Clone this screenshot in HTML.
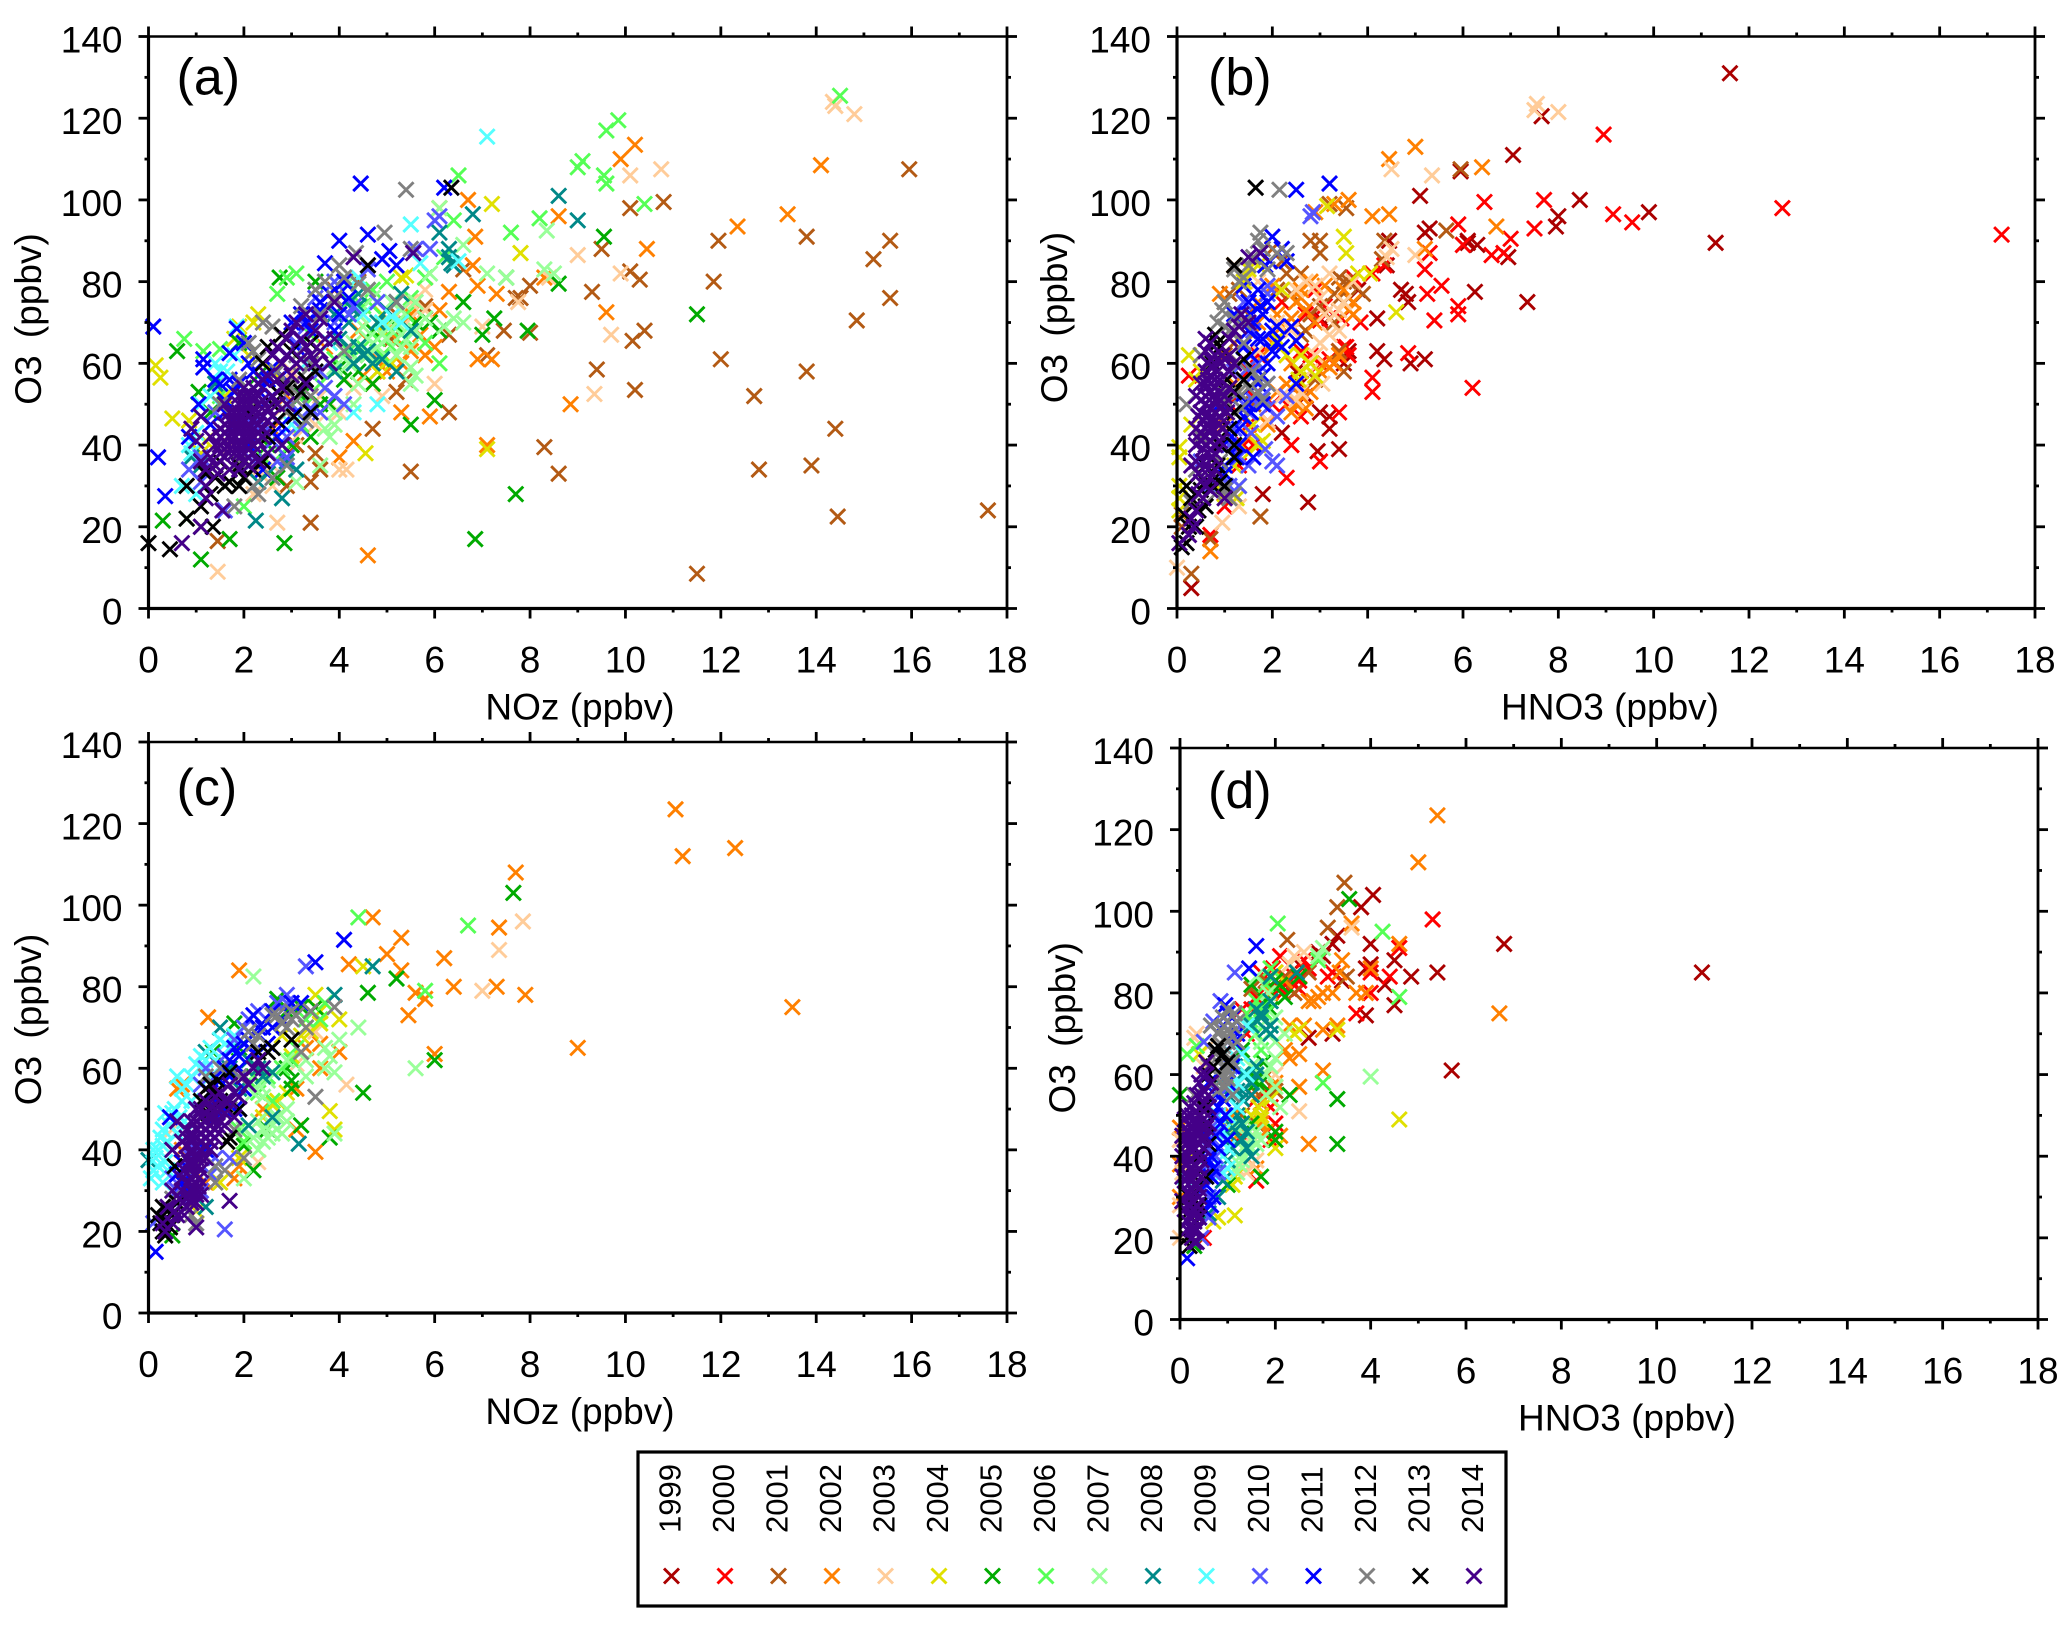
<!DOCTYPE html>
<html lang="en">
<head>
<meta charset="utf-8">
<title>O3 vs NOz and HNO3 scatter panels</title>
<style>
html,body{margin:0;padding:0;background:#fff;}
svg{display:block;font-family:"Liberation Sans",Arial,sans-serif;}
</style>
</head>
<body>
<svg id="figure" xmlns="http://www.w3.org/2000/svg" width="2067" height="1628" viewBox="0 0 2067 1628"></svg>
<script>
const years=[1999,2000,2001,2002,2003,2004,2005,2006,2007,2008,2009,2010,2011,2012,2013,2014];
const xTickLabels=[0,2,4,6,8,10,12,14,16,18];
const yTickLabels=[0,20,40,60,80,100,120,140];
const a2001=[[11.5,8.5],[17.6,24],[14.45,22.5],[14.4,44],[12.8,34],[13.9,35],[12.7,52],[13.8,58],[12,61],[14.85,70.5],[15.55,76],[11.85,80],[15.2,85.5],[15.55,90],[13.8,91],[11.95,90],[15.95,107.5],[10.8,99.5],[10.1,98],[9.5,88],[10.1,82.5],[10.3,80.5],[9.3,77.5],[10.4,68],[10.15,65.5],[10.2,53.5],[9.4,58.5],[8.3,39.5],[8.6,33],[8,67.5],[7.45,68],[7.1,62],[8,79],[7.8,76],[3.4,21],[3.5,38],[3.6,34],[3.4,31],[4.7,44],[5.2,53],[5.4,56],[6.3,48],[4.8,58],[5.5,33.5],[6.3,67],[6.6,83],[7.7,76],[5.1,66],[1.45,16.5],[2.9,30],[3.1,40],[4.4,80],[5.2,62],[3.9,78],[5.8,74],[4.6,62],[5.2,72]];
const a2002=[[4.6,13],[4.3,41],[4,37],[5.3,48],[5.9,47],[8.85,50],[7.1,40],[9.6,72.5],[10.45,88],[8.6,96],[9.9,110],[10.2,113.5],[12.35,93.5],[13.4,96.5],[14.1,108.5],[6.9,61],[7.2,61],[6,64],[6.3,77.5],[6.9,79],[7.3,77],[6.8,84],[6.85,91],[6.7,100],[8.3,81],[6.1,98],[5.3,60],[5.7,67],[5.5,72],[5,58],[4.7,55],[3.2,72],[5,70],[5.2,66],[5.5,63],[5.8,62],[4.8,61],[4.5,57],[3.3,50],[3.7,64],[4.4,68],[3.4,60],[6.1,73],[2.9,52],[2.6,44]];
const a2003=[[1.45,9],[2.7,21],[4,34],[4.15,34],[9.35,52.5],[9.7,67],[7.75,75],[7,69],[9,86.5],[9.9,82],[10.1,106],[10.75,107.5],[14.35,124],[14.4,123],[14.8,121],[6,55],[5.8,78],[3.9,45],[3.5,45],[3,58],[4.9,52],[5.5,75],[2.2,28],[2.6,35],[2.3,34],[8.4,81],[5.1,70],[5.5,71],[5.8,73],[4.3,54],[4,48],[3.6,52],[2.6,30],[1.7,40],[3.1,42],[2.8,49]];
const a2004=[[0.15,59.5],[0.25,56.5],[0.5,46.5],[0.85,46],[7.1,39],[7.2,99],[7.8,87],[5.3,81],[5.4,81.5],[4.55,38],[4.8,58],[4.9,72],[1.9,69],[2.2,70],[1.4,55],[1.6,52],[1.2,41],[5.1,60],[1.8,66],[1.1,38],[2.3,72],[2.1,62],[2.6,58],[4.4,64],[4.9,68]];
const a2005=[[0.3,21.5],[1.1,12],[1.7,17],[2.85,16],[6.85,17],[7.7,28],[5.5,45],[6,51],[4.7,55],[8.6,79.5],[7.5,81],[7.25,71],[7,67],[6.6,75],[6.1,68],[7.95,68],[9.55,91],[11.5,72],[0.6,63],[1.05,53],[2.75,81],[3.5,80],[0.8,22],[2.7,32],[3.8,50],[4.1,56],[4.5,62],[5.6,70],[5.5,68],[2,52],[2.5,40],[1.3,48],[2.9,50],[3.2,52],[3.6,50],[4,59],[4.3,60],[4.4,58],[4.7,68],[5.2,69],[5.9,70],[3,40],[3.4,42],[2.3,57],[1.9,65]];
const a2006=[[0.75,66],[1.15,63],[1.5,63.5],[2.7,77],[2.9,81],[3.1,82],[3.6,55],[3.2,45],[2,25],[6.5,106],[9.1,109.5],[9,108],[9.55,106],[9.6,104],[9.6,117],[9.85,119.5],[14.5,125.5],[10.4,99],[8.2,95.5],[7.6,92],[6.4,95],[5.8,81],[4.7,78],[4.5,74],[5.1,68],[5.4,72],[5.8,65],[6.1,60],[2.8,38],[2.4,37],[6.2,86],[1.5,52],[3.4,67],[3.6,58],[3.9,61],[4.2,63],[4.5,64],[4.8,66],[5.1,64],[5.4,66],[5.5,76],[5,80],[4.7,74],[4.2,75],[4.9,62],[3.3,50]];
const a2007=[[8.35,92.5],[8.3,83],[8.5,82],[7.5,81],[7.1,82],[5.9,82],[5.6,57],[3.6,35],[3.1,31],[3.8,42],[3.9,45],[4.3,50],[5.5,59],[6.2,69],[6.4,71],[6.6,70],[6.6,89],[5,66],[5.3,67],[5.5,64],[4.9,67],[4.6,66],[4.3,65],[4.2,80],[3.9,59],[2,32],[5.3,64],[6.1,98],[5.6,75],[3,47],[2.2,42],[4.6,62],[4.8,64],[5,69],[5.2,70],[5.2,62],[5.6,68],[5.8,71],[4.5,69],[4.7,76],[5.1,75],[5.3,73],[4.4,72],[4.2,60],[4.4,55],[3.9,48],[3.7,44],[5.5,55],[3.4,60]];
const a2008=[[8.6,101],[9,95],[6.8,96.5],[6.1,92],[6.3,88],[6.3,86],[6.35,84.5],[6.4,84],[5.2,75],[5.3,77],[4.4,64],[4.5,62],[4.3,73],[4.4,77],[4.2,70],[2.25,21.5],[2.8,27],[0.9,37],[1.1,35],[1.4,55],[5,73],[5.5,68],[4.8,70],[1.6,45],[2.3,31],[3.1,34],[3.9,72],[4,66],[4.2,64],[4.3,60],[4.6,63],[4.7,60],[4.4,74],[5.2,58],[4.9,61],[3.9,58],[2.9,36],[2.5,33]];
const a2009=[[7.1,115.5],[5.5,94],[5.7,84.5],[6.5,85],[5.1,71.5],[4.3,48],[4.4,81],[0.85,40],[0.9,38],[1,28],[1.85,69],[1.65,58],[1.5,58],[1.3,52],[3.9,80],[4.8,50],[5.3,70],[1.4,60],[1.1,50],[0.7,30],[1,43],[1.8,62],[3,45],[3.8,65],[4.5,72],[4.9,70],[3.3,60]];
const a2010=[[6,95],[6.1,96],[5.9,88],[3.9,52],[4.1,50],[3,50],[3.4,49],[1.1,31],[0.85,34],[2.7,36],[2.9,37],[2.4,47],[2.5,44],[2,47],[3.9,70],[1.6,24],[3.5,76],[4.8,75],[3.1,65],[5.6,88],[2.2,45],[1.1,37],[1.9,38],[2.2,36],[2.6,41],[3.2,44],[3.7,54],[3.6,48],[3.3,69],[3.9,80],[4.2,72],[1.4,48],[4.6,83],[4.3,74],[2.9,42],[3.2,53],[3.6,58]];
const a2011=[[4.45,104],[4,90],[4.6,91.5],[5.05,87.5],[5.2,84],[4.9,85.5],[3.7,84.5],[6.2,103],[0.1,69],[0.2,37],[0.35,27.5],[0.85,42],[1.15,61],[1.15,59],[1.85,68.5],[2,65],[1.7,62.5],[1.6,51],[1.05,50],[3,70],[3.2,72],[2.8,57],[4,77],[4,72],[3.6,73],[3.4,68],[1.8,53],[2.6,59],[2.1,60],[2.7,42],[3.9,68],[2.4,54],[1.4,56],[1.5,55],[1.7,56],[1.9,55],[2.2,58],[2.5,56],[2.9,62],[3.1,64],[3.3,70],[3.5,72],[3.6,75],[3.8,77],[4.1,80],[4.2,76],[2.5,51],[1.3,45],[2.1,40],[2.4,34],[1.6,48],[1.8,45],[2.8,45],[3.1,48]];
const a2012=[[5.4,102.5],[4.95,92],[5.5,88],[4.35,87],[4,84],[3.7,80],[3.5,78],[2.4,70],[2.6,69],[3.2,74],[2.1,65],[1.9,56],[2.3,61],[2.2,63],[4.4,79.5],[4.6,78],[5.2,75],[2.3,28],[1.8,25],[2.9,35],[2.5,38],[3.2,57],[2.9,55],[1.1,36],[3.4,52],[1.5,50],[4.1,63],[3,54],[2.4,36],[2.1,49],[2.7,50],[2.9,48],[3.1,51],[3.4,60],[3.1,62],[2.7,58],[3.6,72],[3.9,76],[4.1,81],[2.6,32],[2.2,30],[1.6,43],[1.9,36],[3.3,46]];
const a2013=[[6.35,103],[0,16],[0.45,14.5],[0.8,30],[0.8,22],[1.1,25],[1.1,20],[1.35,20],[1.6,30],[1.7,31],[1.9,30],[1.4,32],[2.2,34],[2,32],[2.4,36],[1.5,40],[2.7,46],[3.05,47],[2.8,67],[3.4,62],[3.2,53],[2.4,60],[2.5,64],[4.6,84],[3.4,65],[2.1,48],[2.8,40],[1.3,28],[1.5,36],[2.6,50],[2.9,54],[3.3,56],[3.5,58],[3,63],[2.7,53],[3.4,48],[2.3,41],[1.9,35],[2.5,42],[1.2,33]];
const a2014=[[0.7,16],[1.1,20],[1.2,30],[1.55,24],[1.2,27],[5.55,87],[4.3,86],[3.9,75],[3.6,71],[3,68],[2.9,66],[3.1,70],[3.3,64],[3.5,60],[3.8,60],[3.6,63],[2.8,60],[3,57],[2.5,57],[2.6,52],[2.2,54],[1.9,52],[1.6,50],[1.1,47],[1.3,42],[1.5,44],[1.6,41],[1.7,46],[1.8,44],[1.9,48],[2,50],[2.1,44],[2.2,46],[2.3,48],[2.4,44],[2.5,49],[1.9,40],[2,42],[2.1,39],[2.2,42],[1.8,38],[1.6,37],[1.4,35],[1.2,34],[1.7,34],[2.8,40],[2.5,38],[2.3,36],[2,36],[2.3,52],[2.4,51],[2,54],[1.7,48],[1.9,46],[2.1,47],[2.3,43],[2.5,46],[3.5,68],[3.9,66],[3.2,61],[2.7,56],[2.9,50],[3.3,55],[1.5,40],[1.6,43],[1.7,42],[1.8,42],[1.9,43],[2,44],[2.1,42],[2.2,44],[2.3,45],[1.8,46],[1.9,44],[2,46],[2.1,45],[2.2,48],[2.3,50],[2.4,47],[1.7,44],[1.6,45],[1.5,42],[1.4,40],[1.8,48],[1.9,50],[2,48],[2.1,50],[2.2,51],[2.1,52],[2,52],[1.8,40],[1.9,38],[2,40],[2.1,41],[1.7,39],[1.6,39],[1.5,38],[2.2,40],[2.3,41],[2.4,42],[2.6,47],[2.7,50],[2.8,54],[2.2,52],[2.3,55],[2.4,56],[2,38],[1.3,37],[1.1,36],[1.45,33],[1.9,34],[2.1,35],[2.6,62],[3.2,66],[3.4,62],[3.1,60],[2.9,62],[2.7,64],[3.7,66],[3.3,72],[1,41],[0.9,44],[2.2,38]];
const b1999=[[0.3,5],[11.6,131],[7.65,120.5],[7.05,111],[5.95,107],[5.1,101],[8.45,100],[8,96],[7.95,93.5],[9.9,97],[11.3,89.5],[6.95,86],[7.35,75],[6.25,77.5],[6,89],[6.1,90],[6.1,89.5],[6.3,89],[5.2,92],[4.45,90],[4.4,84],[4.7,78],[4.8,77],[4.85,75],[4.2,71],[3.2,71],[4.2,63],[4.35,61],[5.2,61],[3.4,39],[2.95,38.5],[2.75,26],[3.2,44],[3.2,47],[3,48],[2.7,52],[2.2,43],[2.6,55],[3.5,60],[3.6,63],[3,71],[3.8,78],[2.5,58],[1.8,28],[5.3,93],[4.9,60]];
const b2000=[[17.3,91.5],[12.7,98],[8.95,116],[7.7,100],[9.15,96.5],[9.55,94.5],[7.5,93],[7,90.5],[6.45,99.5],[6.6,86.5],[6.85,87],[5.9,94],[6,89],[5.55,79],[5.25,77],[5.4,70.5],[5.9,74],[5.9,72],[5.2,83],[5.3,87],[4.35,84],[4.1,82],[3.7,81],[6.2,54],[4.85,62.5],[4.1,56.5],[4.1,53],[3.4,63],[3.5,64],[3.55,64],[3.6,62],[3.85,70],[3.45,71],[3,70.5],[2.8,62],[3,60],[3.2,61],[3.4,48],[2.4,40],[3,36],[2.3,32],[1.4,40],[1.6,40],[0.25,57],[1.5,45],[1.9,46],[2.2,75],[1,25],[0.7,18],[1.5,58],[2,50],[2.7,72],[1.3,60],[1.3,35],[1.1,50],[1.6,52],[2.3,50],[2.6,63],[2.9,78],[3.1,74],[2.6,47],[1.2,28],[1.7,62]];
const b2001=[[0.1,20],[0.3,8.5],[0.7,17],[1.75,22.5],[5.95,107.5],[5.65,92.5],[4.35,90],[3.55,98],[3.2,99],[3.3,77],[3.5,80],[3.4,81],[3.6,80],[3,90],[2.8,90],[3,87],[4.3,85.5],[3.9,77],[3.4,76],[2.6,82],[2.3,82],[2.2,85],[2.4,77],[2.6,76],[2.7,68],[3.3,70],[3.5,58],[3.4,63],[1,75],[1.1,77],[1.3,78],[2,88],[2.6,67],[1,62],[0.1,23],[1,48],[2.1,78],[2.8,72],[3,74],[1.5,72],[1.2,65],[3.6,76],[2.9,56],[1.6,50]];
const b2002=[[0.7,14],[4.45,110],[5,113],[6.4,108],[3.6,100],[2.9,97],[4.1,96],[4.45,96.5],[6.7,93.5],[5.2,88],[3.3,99],[2.6,76],[2.8,80],[3.1,79],[3.5,78],[3.6,73],[3.7,75],[2.5,75],[2.7,73],[2.2,69],[2.5,50],[2.6,52],[2.7,49],[2.4,48],[3.1,60],[3.3,60],[1.2,84],[0.9,77],[1.4,70],[1.6,67],[1.8,62],[1.5,42],[2,79],[3,58],[3.2,59],[2.3,55],[2.8,53],[2.1,72],[2.4,71],[2.9,70],[1.7,70],[2,65],[2.4,60],[2.1,53],[1.9,45],[3.4,62],[3.7,72],[2.6,78],[1.7,75],[1.2,55],[1,45]];
const b2003=[[0,10],[0.95,21],[7.55,123.5],[7.5,122],[8,121.5],[5.35,106],[4.5,107.5],[5,86.5],[4.5,88],[4.4,86],[3.7,80],[2.7,80],[2.9,79],[2.5,78],[3.5,75],[3.2,67],[3.4,68],[3,65],[2.9,62],[3.05,55],[2.6,53],[2.5,51],[2.2,52],[1.9,46],[3.3,72],[2.1,70],[1.7,63],[1.7,80],[3.4,73],[2.4,68],[2.8,58],[3.1,72],[2.3,62],[1.5,50],[1.3,25],[3,76],[3.2,82]];
const b2004=[[0.05,39.5],[0.05,37],[0.05,30],[0.05,27],[0.05,24],[0.25,62],[0.4,56],[1.3,30],[1.25,27],[4.6,72.5],[3.15,98.5],[3.5,91],[3.55,87],[3.8,82],[4.05,82],[2.6,62],[2.6,58],[2.55,56],[1.8,41],[1.5,38],[1.5,83],[2.2,78],[2.1,66],[1.7,84],[1.2,35],[1.7,40],[2.8,60],[0.3,45],[0.5,58],[2.3,62],[2.9,57],[1,28],[0.9,31],[1,52],[1.6,45],[1.4,80]];
const b2010=[[2.8,96],[2.85,97],[1.9,79],[1.85,39],[2,36],[2.1,35],[1.5,35],[1.9,77],[1.4,75],[1.7,60],[1.5,59],[1.6,57],[2.3,52],[2.1,47],[1.4,50],[1.8,52],[1.2,44],[0.5,36],[0.9,33],[1.9,55],[1.55,43],[1.1,40],[1.3,37],[1.5,48],[1.6,51],[1.7,53],[1.9,49],[1.2,58],[1.3,30],[1.1,30],[0.7,30],[1.6,68]];
const b2011=[[3.2,104],[2.5,102.5],[2,91],[2.2,88],[1.95,85],[2.3,85],[1.85,84],[1.4,79],[1.5,75],[1.8,72],[1.55,72],[1.75,74],[1.2,72],[2.1,69],[2.4,69],[2.5,65.5],[1.8,66],[2.1,65],[1.7,66],[1.9,60],[1.55,62],[2.5,55],[1.5,50],[1.55,48],[1.2,48],[1.15,42],[1.6,37],[1,35],[0.9,50],[1,33],[1.3,44],[1.4,47],[1.35,52],[1.7,55],[1.8,57],[2,63],[2.2,64],[1.5,68],[1.7,78],[1.9,75],[1.6,70],[1.3,40],[1.4,64],[1.8,50],[1.25,37],[2,68]];
const b2012=[[2.15,102.5],[1.75,92],[1.7,90],[1.8,88],[2.1,87],[2.3,87],[1.2,83],[1.3,80],[1.4,81],[1,75],[0.95,73],[0.85,70],[1.2,71],[1.4,70],[1,69],[0.5,62],[1.7,56],[1.9,55],[1.7,53],[1.3,60],[1.2,40],[1.1,27],[1.2,28],[0.5,42],[0.2,50],[0.3,26],[0.9,36],[1.4,56],[1,53],[1,51],[1.3,53],[1.5,54],[1.6,58],[1.8,51],[1.4,65],[1.1,68],[0.7,60],[1.5,84],[1.6,86],[1.9,83],[0.8,28],[1,29],[0.4,34],[1.35,49]];
const b2013=[[1.65,103],[1.2,84],[0.8,67],[0.85,65],[1.4,61],[1.4,56],[1.2,53],[1.2,48],[1.2,40],[1.2,37],[0.8,32],[0.9,31],[0.75,30],[0.2,30],[0.15,23],[0.2,16],[0.1,15],[0.45,24],[0.75,60],[0.9,40],[0.6,35],[0.3,27],[0.5,29],[0.6,31],[0.85,35],[1,30],[0.25,20],[0.6,25],[1.05,56],[0.9,64],[1.1,44],[0.4,20]];
const b2014=[[1.5,86],[1.75,87],[1.2,68],[1.3,69],[0.7,65],[0.6,66],[0.8,62],[0.9,60],[1,61],[1.1,58],[0.7,57],[0.6,55],[0.8,54],[0.9,53],[1,52],[0.5,51],[0.6,50],[0.7,49],[0.8,48],[0.9,47],[1,50],[0.45,47],[0.55,46],[0.65,45],[0.75,44],[0.85,43],[0.95,44],[0.5,43],[0.6,42],[0.7,41],[0.8,40],[0.9,45],[0.55,39],[0.65,38],[0.75,37],[0.4,40],[0.3,35],[0.45,33],[0.6,30],[0.7,29],[0.55,27],[0.4,24],[0.3,22],[0.35,20],[0.25,18],[0.05,16],[1,27],[0.75,52],[0.65,56],[0.6,47],[0.7,46],[0.8,46],[0.9,49],[0.5,48],[0.6,44],[0.7,44],[0.8,42],[0.5,41],[0.6,40],[0.7,39],[0.8,38],[0.9,41],[0.6,52],[0.7,53],[0.8,51],[0.9,51],[0.7,55],[0.8,56],[0.9,56],[0.75,59],[0.65,60],[0.85,58],[0.95,62],[0.7,61],[0.6,58],[0.5,55],[0.4,52],[0.4,44],[0.55,36],[0.65,34],[0.5,31],[0.8,34],[0.7,32],[0.45,28],[0.4,36],[1.05,48],[1.1,54],[1.1,62],[1.2,60],[0.6,63],[1.35,72],[1.5,70],[1.1,66]];
const c2002=[[11.05,123.5],[11.2,112],[12.3,114],[7.7,108],[4.7,97],[5.3,92],[7.35,94.5],[5,88],[6.2,87],[4.2,85.5],[5.3,84],[1.9,84],[6.4,80],[7.3,80],[7.9,78],[5.6,78.5],[5.8,77],[5.45,73],[13.5,75],[9,65],[6,63.5],[1.25,72.5],[4,64],[3.6,60],[3.1,55],[3.1,45],[3.5,39.5],[0.6,55],[0.7,56],[3.6,66],[1.9,36],[1.8,33],[3.3,65],[0.7,40],[1,30],[1.2,32],[2.4,50]];
const c2003=[[7.85,96],[7.35,89],[7,79],[4.15,56],[2.3,37],[3.5,69],[3.1,61],[0.5,45]];
const c2004=[[4.5,85],[3.8,49.5],[3.9,45],[4,72],[3.6,71],[3.5,78],[3,63],[2.6,51],[2.9,54],[3.4,69],[2,42],[1.9,38],[1.5,32],[1,25],[2.8,68],[3.2,68],[3.6,74],[2.7,52],[2.4,48]];
const c2005=[[7.65,103],[5.2,82],[4.6,78.5],[6,62],[4.5,54],[3.8,43],[3.2,75],[3.5,75],[2.2,35],[1.35,64],[1.8,71],[2.7,77],[0.5,19],[3,55],[3.2,46],[2.7,48],[2,41],[3,57],[2.4,60],[2.9,60],[2.2,58],[1.6,60],[1.9,65],[2.5,45],[2.9,74]];
const c2006=[[6.7,95],[4.4,97],[5.8,79],[3.7,76],[3,62],[2.6,52],[2,42],[2.1,57],[1.5,50],[3.6,72],[2.3,54],[2.8,60],[2.5,58],[1.9,45],[3.1,65],[3.3,72]];
const c2007=[[2.2,82.5],[5.6,60],[3.7,65],[3.9,59],[4,67],[4.4,70],[3.9,44],[2.5,43],[2.6,44],[2.8,44],[2.4,42],[2.2,43],[2,33],[3.3,58],[2.3,56],[2.4,53],[2.9,62],[2.7,48],[2.3,47],[3.8,63],[2.6,46],[2.9,47],[2.3,40],[2.4,45],[2.9,50],[2,45],[3.7,60],[3.3,62],[2.2,54],[2.5,57]];
const c2008=[[0,37.5],[4.7,85],[3.9,78],[3.15,41.5],[2.6,48],[2.6,59],[2.3,60],[1.2,26],[2.1,62],[1.5,70],[1.7,60],[1.9,55],[2.4,58],[1.5,52],[2.1,46],[1.3,34],[0.8,30],[1.2,64]];
const c2009=[[0.3,41],[0.2,40],[0.1,35],[0.3,32],[0.15,38],[0.6,44],[0.5,49],[0.7,52],[0.35,37],[0.6,58],[0.3,45],[0.5,40],[1,61],[1.3,65],[1.5,67],[1.7,65],[0.7,55],[0.9,52],[1.1,60],[0.4,35],[1.3,58],[0.2,36],[0.4,42],[0.45,46],[0.55,50],[0.65,48],[0.8,56],[0.9,58],[1.1,63],[1.2,62],[1.4,62],[1.6,66],[1.8,68],[0.1,40],[0.25,43],[0.05,33],[0.75,47],[0.35,49]];
const c2010=[[1.6,20.5],[3.3,85],[0.1,22],[2.1,72],[2.9,78],[2,70],[1.2,60],[0.9,38],[1,40],[0.5,33],[1.3,34],[1.4,58],[0.8,35],[1.6,63],[1.8,67],[2.3,74],[2.7,76],[2.9,76],[1.3,42],[1.1,30],[0.9,28],[1.7,38],[1.4,38],[1.1,56],[0.6,30],[0.7,28]];
const c2011=[[4.1,91.5],[3.5,86],[0.15,15],[0.45,48],[3,76],[2.6,74],[2.2,73],[2.4,70],[1.8,65],[1.9,63],[2.2,64],[2.5,66],[1.7,62],[1.4,52],[1.2,45],[1.6,50],[0.7,37],[0.6,34],[1.8,50],[1.3,54],[1.9,60],[2,66],[2.1,67],[1.5,57],[1.6,60],[1.7,58],[1.4,48],[1.2,40],[0.9,33],[0.8,30],[2.3,70],[2.8,72],[3.2,76],[2.6,70],[2,55],[1.9,50],[1,50],[0.7,32]];
const c2012=[[3.9,75],[3.5,53],[3.2,64],[2.8,71],[3,72],[3.1,73],[2.6,73],[2.1,69],[1.9,58],[1.4,36],[1.1,38],[1,22],[0.5,28],[2,38],[1.7,50],[2.2,66],[2.3,68],[2.7,73],[3.3,70],[3.4,74],[2.9,70],[3,74],[1.2,58],[1.5,60],[1,36],[0.9,24],[1.8,45],[1.6,35],[1.4,32]];
const c2013=[[3,67],[2.6,65],[2.5,64],[1.7,59],[1.3,56],[1.4,54],[1.9,50],[1.65,42],[0.3,26],[0.4,25],[0.2,24],[0.3,20],[0.35,19],[0.6,27],[0.55,36],[1.1,52],[1.2,55],[0.25,22],[0.35,23],[0.5,24],[0.45,21],[1.5,52],[1.6,51],[1.45,57],[1.25,49],[1.7,43],[2.3,64]];
const c2014=[[1.7,27.5],[1,21],[0.35,20],[2.2,60],[2.1,56],[1.9,53],[1.7,56],[1.5,54],[1.3,50],[1,50],[1.6,46],[1.1,48],[1.2,47],[1.3,46],[1.4,45],[1.5,47],[0.9,47],[1,45],[1.1,44],[1.2,43],[1.3,42],[0.9,42],[1,41],[1.1,40],[0.8,41],[0.9,39],[1,38],[0.7,42],[0.8,38],[0.9,36],[0.95,34],[0.85,32],[0.9,30],[1,29],[0.8,28],[0.9,27],[0.7,30],[1.05,31],[0.5,30],[0.6,24],[0.75,24],[1.4,50],[1.2,52],[0.6,47],[0.5,40],[1.8,48],[1.2,38],[1.1,35],[0.9,43],[1,43],[1.1,42],[1.2,41],[1.3,44],[1.2,45],[1.1,46],[1,47],[0.9,44],[0.8,43],[0.8,45],[0.9,40],[1,39],[1.1,38],[1.05,36],[0.95,37],[0.85,37],[1,34],[0.9,33],[0.95,31],[1.05,33],[0.85,29],[0.9,28],[1,27],[1.1,29],[1,30],[1.25,48],[1.35,48],[1.45,46],[1.4,43],[1.6,49],[1.7,52],[1.8,54],[1.6,52],[1.4,53],[1.2,49],[1.1,50],[2,58],[2.3,62],[2.4,60],[0.75,35],[0.7,33],[0.65,28],[0.8,26],[0.5,22],[0.55,25],[0.4,26],[0.3,22],[1.5,50],[1.3,40]];
const d1999=[[10.95,85],[6.8,92],[5.4,85],[5.7,61],[4.85,84],[4.05,104],[4.5,88],[4,92],[3.8,101],[3.2,92],[3,89],[4,87],[3.9,86],[4.3,82],[4.5,77],[3.9,74.5],[3.4,83],[2.7,69],[3.2,70],[2.9,90],[2.5,87],[3.3,94]];
const d2000=[[5.3,98],[3.2,85],[2.3,83],[2.4,82],[2.1,81],[1.9,81],[2.5,83],[2,85],[2.1,89],[4.6,91],[4.4,84],[4,80],[4,85],[3.7,75],[3.1,84],[1.6,79],[1.5,76],[2.6,88],[1.7,85],[1.8,56],[1.9,52],[2,48],[1.2,58],[1.6,34],[0.5,20],[1,55],[2.2,84],[2.3,81],[2.4,84],[2.5,81],[2,83],[1.95,86],[1.8,83],[2.7,86],[2.15,80],[1.4,70],[1.3,76],[1.6,54],[1.7,50],[1.5,55],[1.3,45],[1.9,44]];
const d2001=[[3.45,107],[3.3,101],[3.1,96],[2.25,93],[3.5,84],[2.4,80],[1.5,81],[2.2,84],[1.75,59],[1.7,53],[1.3,50],[2.7,85],[2.5,84],[2.3,87],[1.8,83],[2,56],[1.6,48],[1.65,55]];
const d2002=[[5.4,123.5],[5,112],[3.6,97],[6.7,75],[4.6,92],[3.4,88],[4,86],[3.9,80],[3.7,80],[2.8,78],[3,80],[2.7,78],[2.6,72],[2.3,72],[3,71],[3.3,72],[2.5,65],[2.3,64],[3,61],[2.5,57],[2.7,43],[0,47],[0,44],[1.7,53],[1.6,37],[1.9,80],[1.8,46],[2.1,45],[2,44],[1.4,60],[2.2,66],[2.9,79],[3.2,80],[3.35,85],[1.2,45],[1.1,50],[0,38],[0,30],[1.7,48],[2,58],[2.2,83]];
const d2003=[[3.6,96],[2.4,89],[2.5,51],[0.35,70],[0.3,69],[1.5,38],[1.4,36],[0.6,67],[1.5,45],[2.3,87],[0,44],[0,20],[2,60],[0.05,36],[0,28],[1.2,37],[1.6,39],[1.3,66],[0.5,62],[2.6,90]];
const d2004=[[4.6,49],[3.3,71],[2.5,71],[2,42],[1.15,25.5],[0.7,24],[1.7,50],[1.7,49],[1.1,33],[2,85],[0.4,65],[0.2,40],[1.65,52],[1.3,44],[1,47],[1.15,35],[0.8,25],[1.9,54],[1.5,50],[2.4,70]];
const d2005=[[3.55,103],[3.3,54],[3.3,43],[2.3,55],[2,44],[2,46],[1.7,35],[1,33],[0.3,18],[1.7,58],[1.6,59],[2,83],[1.5,82],[2.2,79],[1.9,76],[0,55],[1.4,72],[2.5,84],[1.8,78],[1.7,74],[1.9,84],[1.6,58],[1.3,66],[1.5,48],[1.75,63],[2.1,82]];
const d2006=[[2.05,97],[4.25,95],[4.6,79],[3,58],[1.8,75],[1.7,66],[0.15,65],[0.35,67],[1.6,78],[1.4,75],[1,57],[2.9,88],[1.9,78],[1.5,62],[1.4,60],[1.7,76],[1.8,82],[1.9,86],[1.5,73],[1.6,70],[1.9,72],[1.3,60]];
const d2007=[[3,91],[4,59.5],[2.9,89],[2.1,52],[2,57],[1.3,39],[1.5,44],[1.6,43],[1.4,43],[1.7,44],[1.3,47],[2,68],[2.2,70],[2,64],[1.7,68],[1.5,62],[1.2,36],[1.8,60],[1.6,84],[1.45,46],[1.55,44],[1.4,41],[1.6,46],[1.5,42],[1.25,38],[1.8,55],[1.9,62],[1.7,72],[1.85,80],[2,74],[1.2,47],[1.1,38]];
const d2008=[[2.45,85],[1.9,72],[1.7,75],[1.5,72],[1.9,70],[1.3,60],[1.3,56],[1.2,52],[1.3,48],[1.4,42],[1.1,47],[1.05,45],[1.5,58],[1.6,62],[0.9,57],[0.8,30],[0.6,26],[1,55],[1,50],[1.2,56],[1.3,54],[1.4,60],[1.6,60],[1.7,74],[1.8,71],[1.6,76],[1.9,78],[1.1,42],[1,39],[1.3,44],[1.5,40],[1.4,46],[1.15,62],[0.9,34],[1.2,50],[1.9,84],[1.5,55]];
const d2009=[[1.2,64],[1.4,60],[1.3,65],[0.9,36],[1,37],[1.2,52],[0.8,60],[0.1,35],[0.7,40],[1,66],[1.1,56],[0.8,50],[0.9,46],[1,50],[1.1,60],[1.2,58],[1,42],[0.9,40],[0.75,46],[1.05,62],[0.5,38],[1.4,72]];
const d2010=[[1.15,85],[0.85,78],[0.7,73],[0.5,68],[0.55,45],[0.6,38],[0.8,36],[0.45,20],[0.6,25],[0.9,62],[0.75,50],[0.6,30],[1.1,70],[0.6,42],[0.7,44],[0.65,47],[0.55,35],[0.5,32],[0.75,40],[0.85,55],[0.8,46],[1.05,62],[0.7,36],[0.4,25]];
const d2011=[[1.6,91.5],[1.45,86],[0.95,77],[1,75],[1.2,70],[1,68],[0.8,60],[0.9,54],[0.8,52],[0.75,45],[0.8,42],[0.6,39],[0.15,15],[0.7,30],[0.5,27],[0.6,58],[0.9,72],[0.7,50],[1,58],[1.1,62],[0.85,48],[0.95,50],[0.65,40],[0.7,37],[0.65,35],[0.55,33],[1.1,74],[1.15,68],[0.75,55],[0.55,45],[1,44],[0.65,28]];
const d2012=[[0.65,72],[0.9,74],[1,71],[1,68],[0.8,70],[1.2,73],[0.9,67],[0.8,63],[0.85,60],[1,61],[1,59],[0.7,58],[1.1,63],[0.3,55],[1,76],[0.85,71],[0.95,69],[1.1,72],[1.15,75],[1.05,70],[0.75,65],[0.9,59],[0.95,57],[1.05,64],[0.8,56],[0.6,62],[1.2,68],[0.95,62],[1.1,55]];
const d2013=[[0.75,66],[0.9,65],[0.6,60],[0.55,48],[0.4,40],[0.3,35],[0.25,30],[0.15,26],[0.2,18],[0.35,27],[0.4,50],[0.6,43],[0.8,67],[1,63],[0.7,62],[0.5,52],[0.2,30],[0.3,26],[0.25,23],[0.4,28],[0.55,35],[0.15,20]];
const d2014=[[0.55,63],[0.4,58],[0.5,56],[0.3,53],[0.4,50],[0.2,52],[0.35,48],[0.45,47],[0.5,45],[0.2,46],[0.3,44],[0.4,43],[0.5,42],[0.15,43],[0.25,41],[0.35,40],[0.45,39],[0.15,38],[0.25,37],[0.35,36],[0.2,35],[0.3,33],[0.4,32],[0.15,31],[0.25,29],[0.35,28],[0.1,27],[0.2,25],[0.3,24],[0.15,22],[0.25,20],[0.35,19],[0.05,29],[0.05,40],[0.1,49],[0.3,46],[0.4,46],[0.25,47],[0.2,42],[0.1,38],[0.45,35],[0.35,22],[0.5,53],[0.2,44],[0.3,42],[0.4,41],[0.5,44],[0.25,45],[0.35,46],[0.45,44],[0.55,47],[0.6,48],[0.5,49],[0.4,48],[0.3,48],[0.2,48],[0.15,46],[0.1,44],[0.1,41],[0.2,39],[0.3,38],[0.4,37],[0.15,35],[0.25,34],[0.35,33],[0.3,31],[0.2,31],[0.4,30],[0.25,26],[0.35,26],[0.2,28],[0.3,27],[0.15,24],[0.25,22],[0.3,22],[0.4,25],[0.45,55],[0.35,55],[0.55,60],[0.45,60],[0.25,50],[0.35,51],[0.5,51],[0.6,52],[0.6,55],[0.65,58],[0.1,34],[0.15,50],[0.05,45],[0.05,35],[0.3,19]];

const yearColors=['#aa0000','#ff0000','#b35a14','#ff8000','#ffcc99','#e0e000','#00aa00','#55ff55','#99ff99','#008888','#55ffff','#5555ff','#0000ff','#808080','#000000','#440088'];
const svgNS='http://www.w3.org/2000/svg';
const root=document.getElementById('figure');

function add(parent,tag,name,attrs,text){
  const el=document.createElementNS(svgNS,tag);
  
  
  for(const k in attrs){el.setAttribute(k,attrs[k]);}
  if(text!==undefined){el.textContent=text;}
  parent.appendChild(el);
  return el;
}
function crossPath(px,py,r){
  return 'M'+(px-r)+' '+(py-r)+'L'+(px+r)+' '+(py+r)+'M'+(px+r)+' '+(py-r)+'L'+(px-r)+' '+(py+r);
}
function drawPanel(cfg){
  const g=add(root,'g','panel-'+cfg.id,{});
  const scaleX=v=>cfg.left+(v/18)*(cfg.right-cfg.left);
  const scaleY=v=>cfg.bottom-(v/140)*(cfg.bottom-cfg.top);
  const marks=add(g,'g','points-panel-'+cfg.id,{fill:'none','stroke-width':2.9});
  years.forEach((yr,i)=>{
    const pts=cfg.series[yr];
    if(!pts){return;}
    const sg=add(marks,'g','series-'+yr,{stroke:yearColors[i]});
    pts.forEach(p=>{
      add(sg,'path','point-'+yr,{d:crossPath(scaleX(p[0]),scaleY(p[1]),7.5)});
    });
  });
  const axes=add(g,'g','axes-panel-'+cfg.id,{stroke:'#000',fill:'none'});
  add(axes,'line','plot-top-border',{x1:cfg.left,x2:cfg.right,y1:cfg.top,y2:cfg.top,'stroke-width':2.4});
  add(axes,'line','plot-right-border',{x1:cfg.right,x2:cfg.right,y1:cfg.top,y2:cfg.bottom,'stroke-width':2.8});
  add(axes,'line','plot-bottom-border',{x1:cfg.left,x2:cfg.right,y1:cfg.bottom,y2:cfg.bottom,'stroke-width':3.2});
  add(axes,'line','plot-left-border',{x1:cfg.left,x2:cfg.left,y1:cfg.top,y2:cfg.bottom,'stroke-width':3.2});
  for(let v=0;v<=18;v++){
    const len=v%2===0?10:4, px=scaleX(v);
    add(axes,'line','x-tick-bottom',{x1:px,x2:px,y1:cfg.bottom,y2:cfg.bottom+len,'stroke-width':2.8});
    add(axes,'line','x-tick-top',{x1:px,x2:px,y1:cfg.top,y2:cfg.top-len,'stroke-width':2.8});
  }
  for(let v=0;v<=140;v+=10){
    const len=v%20===0?10:4, py=scaleY(v);
    add(axes,'line','y-tick-left',{x1:cfg.left,x2:cfg.left-len,y1:py,y2:py,'stroke-width':2.8});
    add(axes,'line','y-tick-right',{x1:cfg.right,x2:cfg.right+len,y1:py,y2:py,'stroke-width':2.8});
  }
  xTickLabels.forEach(v=>{
    add(g,'text','x-tick-label',{x:scaleX(v),y:cfg.bottom+64,'text-anchor':'middle','font-size':37,fill:'#000'},String(v));
  });
  yTickLabels.forEach(v=>{
    add(g,'text','y-tick-label',{x:cfg.left-26,y:scaleY(v)+16,'text-anchor':'end','font-size':37,fill:'#000'},String(v));
  });
  add(g,'text','x-axis-title',{x:cfg.xTitleX,y:cfg.bottom+111,'text-anchor':'middle','font-size':37,fill:'#000'},cfg.xTitle);
  const yc=(cfg.top+cfg.bottom)/2+cfg.yShift;
  add(g,'text','y-axis-title',{x:cfg.yTitleX,y:yc,'text-anchor':'middle','font-size':37,fill:'#000','word-spacing':7,transform:'rotate(-90 '+cfg.yTitleX+' '+yc+')'},'O3 (ppbv)');
  add(g,'text','panel-label',{x:cfg.left+cfg.labelDx,y:cfg.top+cfg.labelDy,'font-size':52,fill:'#000'},'('+cfg.id+')');
}

drawPanel({id:'a',left:148.5,right:1007,top:36.5,bottom:608.5,xTitle:'NOz (ppbv)',xTitleX:580,yTitleX:41,labelDx:28,labelDy:58,yShift:-3.5,
  series:{2001:a2001,2002:a2002,2003:a2003,2004:a2004,2005:a2005,2006:a2006,2007:a2007,2008:a2008,2009:a2009,2010:a2010,2011:a2011,2012:a2012,2013:a2013,2014:a2014}});
drawPanel({id:'b',left:1177,right:2035,top:36.5,bottom:608.5,xTitle:'HNO3 (ppbv)',xTitleX:1610,yTitleX:1067,labelDx:31,labelDy:58,yShift:-5,
  series:{1999:b1999,2000:b2000,2001:b2001,2002:b2002,2003:b2003,2004:b2004,2010:b2010,2011:b2011,2012:b2012,2013:b2013,2014:b2014}});
drawPanel({id:'c',left:148.5,right:1007,top:742,bottom:1313,xTitle:'NOz (ppbv)',xTitleX:580,yTitleX:41,labelDx:28,labelDy:63,yShift:-8,
  series:{2002:c2002,2003:c2003,2004:c2004,2005:c2005,2006:c2006,2007:c2007,2008:c2008,2009:c2009,2010:c2010,2011:c2011,2012:c2012,2013:c2013,2014:c2014}});
drawPanel({id:'d',left:1180,right:2038,top:748,bottom:1319.5,xTitle:'HNO3 (ppbv)',xTitleX:1627,yTitleX:1075,labelDx:28,labelDy:60,yShift:-6,
  series:{1999:d1999,2000:d2000,2001:d2001,2002:d2002,2003:d2003,2004:d2004,2005:d2005,2006:d2006,2007:d2007,2008:d2008,2009:d2009,2010:d2010,2011:d2011,2012:d2012,2013:d2013,2014:d2014}});

const legend=add(root,'g','legend',{});
add(legend,'rect','legend-box',{x:638,y:1452,width:868,height:154,fill:'none',stroke:'#000','stroke-width':3.2});
years.forEach((yr,i)=>{
  const cx=671.5+i*53.5;
  const entry=add(legend,'g','legend-entry-'+yr,{});
  add(entry,'text','legend-label-'+yr,{x:cx+9,y:1533,'font-size':31,fill:'#000',transform:'rotate(-90 '+(cx+9)+' 1533)'},String(yr));
  add(entry,'path','legend-marker-'+yr,{d:crossPath(cx,1576,7.5),stroke:yearColors[i],'stroke-width':2.9,fill:'none'});
});
</script>
</body>
</html>
